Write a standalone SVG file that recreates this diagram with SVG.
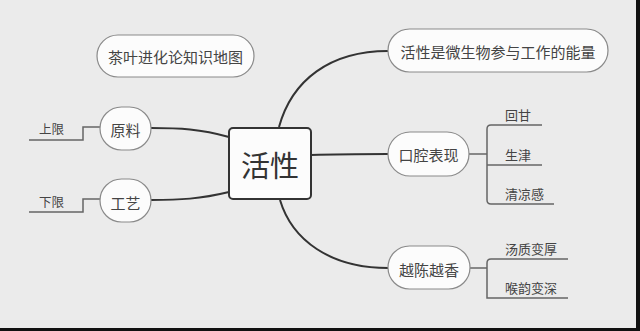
<svg xmlns="http://www.w3.org/2000/svg" width="640" height="331" viewBox="0 0 640 331">
<style>
text{font-family:"Noto Sans CJK SC","Noto Sans",sans-serif;fill:#444;}
.pill{fill:#fcfcfc;stroke:#8a8a8a;stroke-width:1.2;}
.main{fill:#fcfcfc;stroke:#333;stroke-width:2;}
.conn{fill:none;stroke:#333;stroke-width:2;}
.sub{fill:none;stroke:#666;stroke-width:1.5;}
.t15{font-size:15px;text-anchor:middle;}
.t13{font-size:13px;}
.t12{font-size:12.5px;}
</style>
<rect x="0" y="0" width="640" height="331" fill="#111"/>
<rect x="0" y="0" width="636" height="328" fill="#ebebeb"/>
<g id="connectors">
<path class="conn" d="M279,127 C292,80 330,51 388,51"/>
<path class="conn" d="M311,155 C340,154 360,154 388,154"/>
<path class="conn" d="M280,200 C292,240 330,268 388,268"/>
<path class="conn" d="M229,137 C200,129 180,128 151,128"/>
<path class="conn" d="M229,192 C200,199 180,200 151,200"/>
<path class="sub" d="M469,154 H487"/>
<path class="sub" d="M542,125 H491 Q487,125 487,129 V200 Q487,204 491,204 H554"/>
<path class="sub" d="M487,165 H542"/>
<path class="sub" d="M470,268 H487"/>
<path class="sub" d="M568,259 H491 Q487,259 487,263 V298 H568"/>
<path class="sub" d="M100,127 H83 V140 H29"/>
<path class="sub" d="M100,199 H83 V212 H29"/>
</g>
<g id="center">
<rect class="main" x="229" y="128" width="82" height="71" rx="4"/>
<text x="270" y="177" style="font-size:29px;text-anchor:middle;fill:#333">活性</text>
</g>
<g id="title">
<rect class="pill" x="97" y="35" width="157" height="42" rx="21"/>
<text class="t15" x="175.5" y="63">茶叶进化论知识地图</text>
</g>
<g id="energy">
<rect class="pill" x="388" y="29" width="220" height="43" rx="21.5"/>
<text class="t15" x="498" y="57.5">活性是微生物参与工作的能量</text>
</g>
<g id="mouth">
<rect class="pill" x="388" y="132" width="81" height="44" rx="22"/>
<text class="t15" x="428.5" y="161">口腔表现</text>
</g>
<g id="aged">
<rect class="pill" x="388" y="246" width="82" height="43" rx="21.5"/>
<text class="t15" x="429" y="275.5">越陈越香</text>
</g>
<g id="material">
<rect class="pill" x="100" y="107" width="51" height="43" rx="21.5"/>
<text class="t15" x="125.5" y="135.5">原料</text>
</g>
<g id="craft">
<rect class="pill" x="100" y="179" width="51" height="43" rx="21.5"/>
<text class="t15" x="125.5" y="208.5">工艺</text>
</g>
<g id="huigan"><text class="t13" x="505" y="120">回甘</text></g>
<g id="shengjin"><text class="t13" x="505" y="159.5">生津</text></g>
<g id="qingliang"><text class="t13" x="505" y="198.5">清凉感</text></g>
<g id="tangzhi"><text class="t13" x="505" y="254">汤质变厚</text></g>
<g id="houyun"><text class="t13" x="505" y="293">喉韵变深</text></g>
<g id="upper"><text class="t12" x="39" y="133.5">上限</text></g>
<g id="lower"><text class="t12" x="39" y="207">下限</text></g>
</svg>
